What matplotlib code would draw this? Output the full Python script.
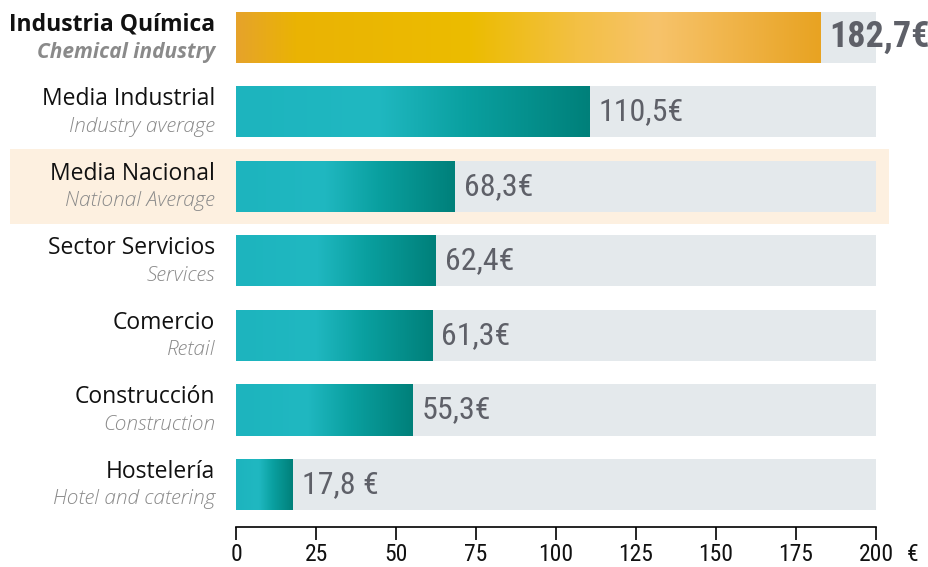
import matplotlib.pyplot as plt
import numpy as np
from matplotlib.colors import LinearSegmentedColormap

# Data
sectors_es = ['Industria Química', 'Media Industrial', 'Media Nacional', 'Sector Servicios',
              'Comercio', 'Construcción', 'Hostelería']
sectors_en = ['Chemical industry', 'Industry average', 'National Average', 'Services',
              'Retail', 'Construction', 'Hotel and catering']
values = [182.7, 110.5, 68.3, 62.4, 61.3, 55.3, 17.8]
value_labels = ['182,7€', '110,5€', '68,3€', '62,4€', '61,3€', '55,3€', '17,8 €']
x_ticks = [0, 25, 50, 75, 100, 125, 150, 175, 200]
x_max = 200
highlight_row = 2

narrow = ['Roboto Condensed', 'Roboto', 'DejaVu Sans']
label_font = ['Open Sans', 'DejaVu Sans']

gold = LinearSegmentedColormap.from_list('gold', [
    (0.0, '#E6A32B'), (0.1, '#EAB304'), (0.4, '#ECBC00'),
    (0.58, '#F3C043'), (0.72, '#F7C36B'), (1.0, '#E8A322')])
teal = LinearSegmentedColormap.from_list('teal', [
    (0.0, '#1DB4BE'), (0.4, '#20B8C1'), (0.65, '#0AA0A0'), (1.0, '#00807A')])
grad = np.linspace(0, 1, 256).reshape(1, -1)

fig = plt.figure(figsize=(9.29, 5.67), dpi=100)
ax = fig.add_axes([236 / 929, 40 / 567, 640 / 929, 527 / 567])
ax.set_facecolor('none')

y = np.arange(len(values))
bar_h = 0.685

# highlight band behind "Media Nacional"
ax.add_patch(plt.Rectangle((-70.5, highlight_row - 0.5), 274.5, 1.0,
                           facecolor='#FDF0E0', edgecolor='none',
                           clip_on=False, zorder=0))

# grey background bars
ax.barh(y, [x_max] * len(values), height=bar_h, color='#E4E9EC', zorder=1)

# value bars with gradient fill
bars = ax.barh(y, values, height=bar_h, facecolor='none', edgecolor='none', zorder=2)
for i, (rect, v) in enumerate(zip(bars, values)):
    cmap = gold if i == 0 else teal
    im = ax.imshow(grad, cmap=cmap, aspect='auto', zorder=2,
                   extent=[0, v, i + bar_h / 2, i - bar_h / 2])
    im.set_clip_path(rect)

    bold = i == 0
    ax.text(v + 2.8, i, value_labels[i], va='center', ha='left',
            fontsize=26 if bold else 23, fontweight='bold' if bold else 'normal',
            color='#5E6068', family=narrow, zorder=3)

    ax.text(-6.5, i - 0.17, sectors_es[i], ha='right', va='center',
            fontsize=16.5, fontweight='bold' if bold else 'normal',
            color='#111111', family=label_font)
    ax.text(-6.5, i + 0.2, sectors_en[i], ha='right', va='center',
            fontsize=15, style='italic', fontweight='bold' if bold else 'light',
            color='#8A8A8A', family=label_font)

ax.set_xlim(0, x_max)
ax.set_ylim(len(values) - 1 + 0.57, -0.5)

ax.set_xticks(x_ticks)
ax.set_xticklabels([str(t) for t in x_ticks], family=narrow, fontsize=17, color='#111111')
ax.tick_params(axis='x', direction='out', length=9.4, width=1.2, pad=2)
ax.set_yticks([])
for s in ['top', 'right', 'left']:
    ax.spines[s].set_visible(False)
ax.spines['bottom'].set_linewidth(1.2)
ax.spines['bottom'].set_bounds(0, x_max)

ax.annotate('€', xy=(1, 0), xycoords='axes fraction', xytext=(26, -11.4),
            textcoords='offset points', ha='center', va='top',
            fontsize=17, family=narrow, color='#111111')

fig.savefig('out.png', dpi=100)
